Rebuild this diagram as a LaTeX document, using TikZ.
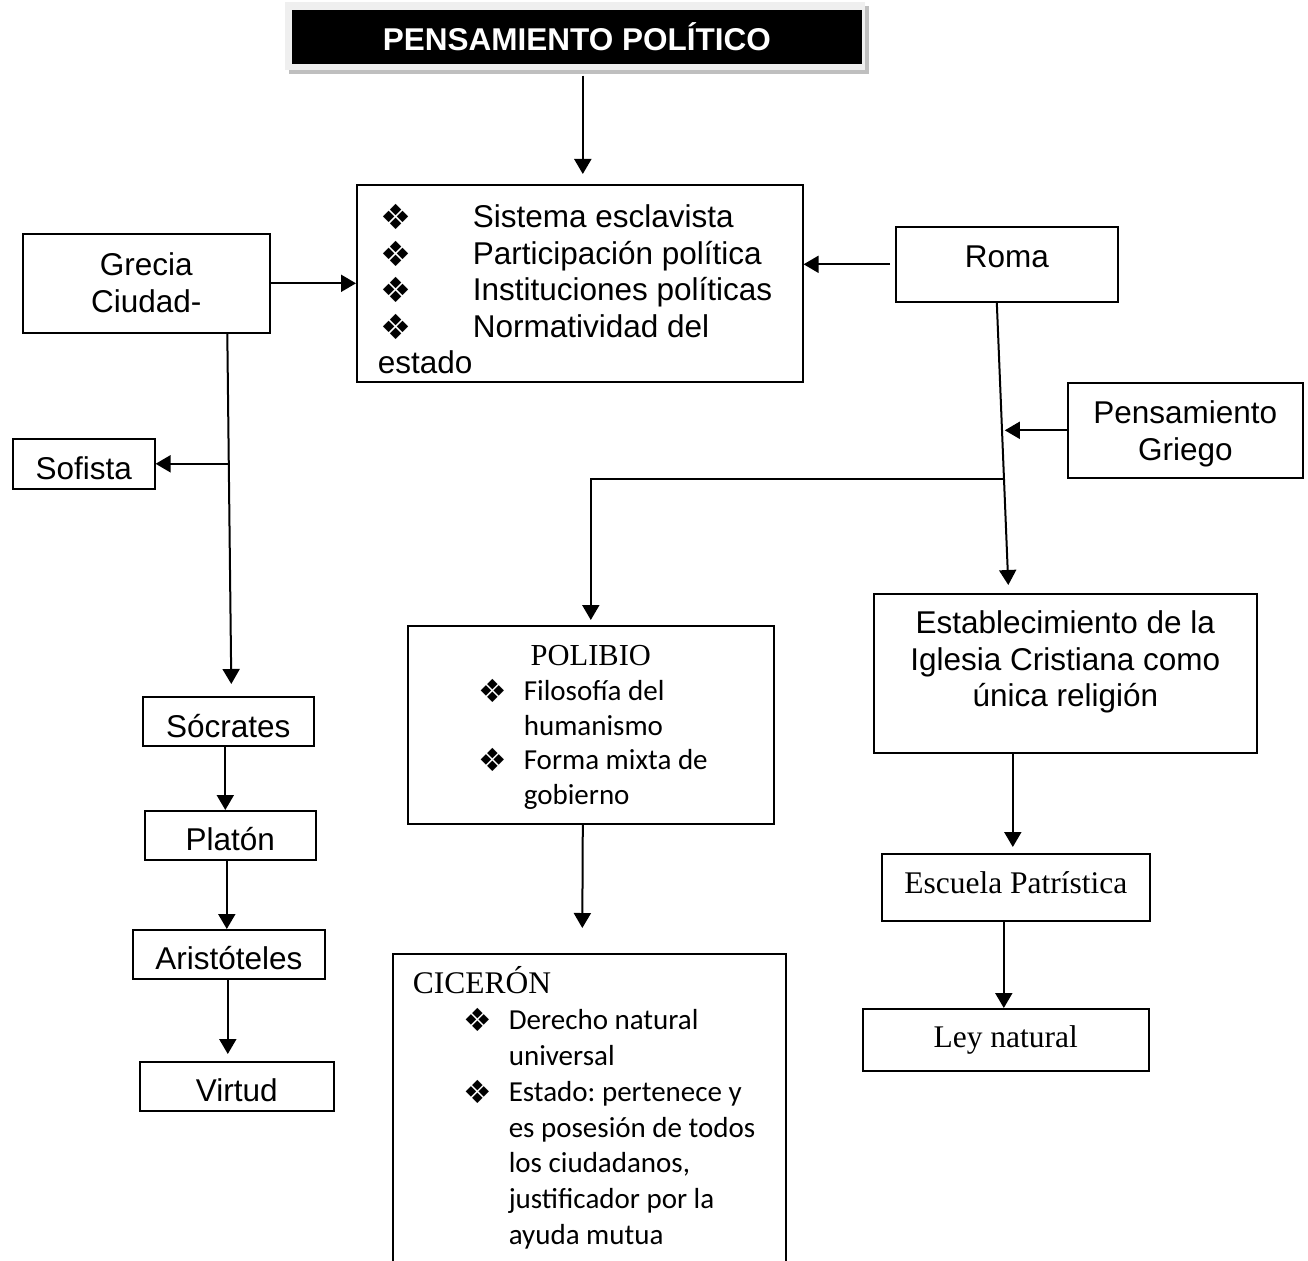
\documentclass[tikz,border=0pt]{standalone}
\usepackage{fontspec}
\setmainfont{Liberation Sans}
\newfontfamily\timesfnt{Liberation Serif}
\newfontfamily\calfnt{Carlito}
\newfontfamily\dingfnt[Scale=1.1]{DejaVu Sans}
\usetikzlibrary{arrows.meta}
\usetikzlibrary{calc}
\definecolor{framegray}{RGB}{239,239,239}
\definecolor{shadowgray}{RGB}{191,191,191}
\newcommand{\dia}{\smash{\raisebox{-2pt}{\dingfnt ❖}}}
\frenchspacing

\begin{document}
\begin{tikzpicture}[x=1pt, y=-1pt,
        box/.style={draw=black, line width=1.6pt, inner sep=0pt, anchor=north west, font=\fontsize{31.5}{36.5}\selectfont},
        cbox/.style={box, align=flush center},
        lbox/.style={box, align=flush left},
        tb/.style 2 args={text height=#1pt, text depth=#2pt},
        arr/.style={line width=2pt, -{Triangle[length=15pt,width=17pt]}}]
        \useasboundingbox (0,0) rectangle (1308,1260);

        \fill[shadowgray] (289,6) rectangle (869,74);
        \fill[framegray] (285,2) rectangle (865,70);
        \node[cbox, fill=black, text=white, text width=568pt, tb={40}{12}] (title) at (292,10) {\bfseries PENSAMIENTO POLÍTICO};

        \node[lbox, text width=404pt, inner xsep=21pt, tb={43}{154}] (rasgos) at (356,184) {%
            \hspace*{3pt}\makebox[92pt][l]{\dia}Sistema esclavista\\
            \hspace*{3pt}\makebox[92pt][l]{\dia}Participación política\\
            \hspace*{3pt}\makebox[92pt][l]{\dia}Instituciones políticas\\
            \hspace*{3pt}\makebox[92pt][l]{\dia}Normatividad del\\
            estado};

        \node[cbox, text width=247pt, tb={42}{57}] (grecia) at (22,233) {Grecia\\Ciudad-};
        \node[cbox, text width=222pt, tb={41}{34}] (roma) at (895,226) {Roma};
        \node[cbox, text width=235pt, tb={41}{54}] (pgriego) at (1067,382) {Pensamiento\\Griego};
        \node[cbox, text width=142pt, tb={41}{9}] (sofista) at (12,438) {Sofista};
        \node[cbox, text width=171pt, tb={41}{8}] (socrates) at (142,696) {Sócrates};
        \node[cbox, text width=171pt, tb={40}{9}] (platon) at (144,810) {Platón};
        \node[cbox, text width=192pt, tb={40}{9}] (aristoteles) at (132,929) {Aristóteles};
        \node[cbox, text width=194pt, tb={40}{9}] (virtud) at (139,1061) {Virtud};
        \node[cbox, text width=383pt, tb={40}{119}] (iglesia) at (873,593) {Establecimiento de la\\Iglesia Cristiana como\\única religión};
        \node[cbox, text width=268pt, tb={40}{27}, font=\timesfnt\fontsize{31.5}{36.5}\selectfont] (patristica) at (881,853) {Escuela Patrística};
        \node[cbox, text width=286pt, tb={39}{23}, font=\timesfnt\fontsize{31.5}{36.5}\selectfont] (leynat) at (862,1008) {Ley natural};

        \node[lbox, text width=366pt, tb={40}{158}, font=\calfnt\fontsize{29}{34.7}\selectfont] (polibio) at (407,625) {%
            \makebox[366pt]{\timesfnt\fontsize{30.5}{34.7}\selectfont POLIBIO}\\
            \hspace*{71pt}\makebox[45pt][l]{\dia}Filosofía del\\
            \hspace*{116pt}humanismo\\
            \hspace*{71pt}\makebox[45pt][l]{\dia}Forma mixta de\\
            \hspace*{116pt}gobierno};

        \node[lbox, text width=353pt, inner xsep=20pt, tb={40}{273}, font=\calfnt\fontsize{29}{35.8}\selectfont] (ciceron) at (392,953) {%
            {\timesfnt\fontsize{31.5}{35.8}\selectfont CICERÓN}\\
            \hspace*{51pt}\makebox[45pt][l]{\dia}Derecho natural\\
            \hspace*{96pt}universal\\
            \hspace*{51pt}\makebox[45pt][l]{\dia}Estado: pertenece y\\
            \hspace*{96pt}es posesión de todos\\
            \hspace*{96pt}los ciudadanos,\\
            \hspace*{96pt}justificador por la\\
            \hspace*{96pt}ayuda mutua};

        \draw[arr] ($(title.south)+(6,12)$) -- ($(title.south |- rasgos.north)+(6,-10)$);
        \draw[arr] (grecia.east) -- (grecia.east -| rasgos.west);
        \draw[arr] ($(roma.west)+(-5,0)$) -- (roma.west -| rasgos.east);

        \coordinate (gtop) at ($(grecia.south)+(81,0)$);
        \draw[arr] (gtop) -- ($(socrates.north)+(3,-12)$);
        \draw[arr] ($(sofista.east -| gtop)+(1.5,0)$) -- (sofista.east);
        \draw[arr] ($(socrates.south)+(-3,0)$) -- ($(socrates.south |- platon.north)+(-3,0)$);
        \draw[arr] ($(platon.south)+(-3.5,0)$) -- ($(platon.south |- aristoteles.north)+(-3.5,0)$);
        \draw[arr] ($(aristoteles.south)+(-1,0)$) -- ($(aristoteles.south |- virtud.north)+(-1,-7)$);

        \coordinate (rtop) at ($(roma.south)+(-10,0)$);
        \draw[arr] (rtop) -- ($(iglesia.north)+(-57,-8)$);
        \draw[arr] (pgriego.west) -- ($(pgriego.west -| rtop)+(8,0)$);
        \draw[arr] ($(pgriego.south west -| rtop)+(8,0)$) -| ($(polibio.north)+(0,-5)$);
        \draw[arr] ($(polibio.south)+(-8,0)$) -- ($(ciceron.north)+(-7,-25)$);
        \draw[arr] ($(patristica.north |- iglesia.south)+(-3,0)$) -- ($(patristica.north)+(-3,-6)$);
        \draw[arr] ($(leynat.north |- patristica.south)+(-2,0)$) -- ($(leynat.north)+(-2,0)$);
    \end{tikzpicture}
\end{document}
